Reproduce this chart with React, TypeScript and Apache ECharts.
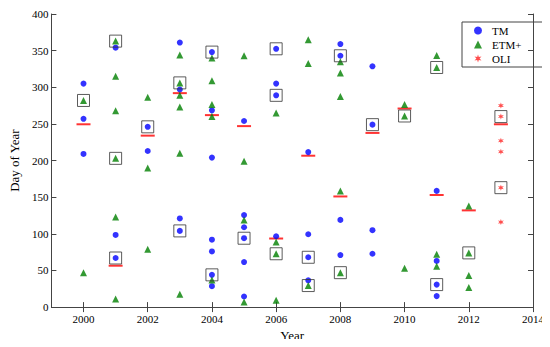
import React, { useEffect, useRef } from "react";
import * as echarts from "echarts";

// [year, day of year]
const tmPoints: number[][] = [
  [2000, 305], [2000, 257], [2000, 209],
  [2001, 354], [2001, 98.5], [2001, 67],
  [2002, 246], [2002, 213],
  [2003, 361], [2003, 297], [2003, 121], [2003, 104],
  [2004, 348], [2004, 268.5], [2004, 204], [2004, 92], [2004, 76], [2004, 44], [2004, 28.5],
  [2005, 254], [2005, 125.6], [2005, 109], [2005, 94], [2005, 61.5], [2005, 14.5],
  [2006, 352.5], [2006, 305], [2006, 289], [2006, 96.7],
  [2007, 211.5], [2007, 99.4], [2007, 68], [2007, 36.6],
  [2008, 359], [2008, 343], [2008, 119], [2008, 71],
  [2009, 328.6], [2009, 249], [2009, 105], [2009, 72.8],
  [2011, 158.6], [2011, 63], [2011, 30.7], [2011, 15],
];

const etmPoints: number[][] = [
  [2000, 282], [2000, 47],
  [2001, 363], [2001, 315], [2001, 268], [2001, 203], [2001, 123], [2001, 11],
  [2002, 286.5], [2002, 190], [2002, 79],
  [2003, 344], [2003, 306], [2003, 289], [2003, 273], [2003, 210], [2003, 17.6],
  [2004, 340], [2004, 309], [2004, 276.6], [2004, 260], [2004, 37],
  [2005, 343], [2005, 199], [2005, 119], [2005, 7],
  [2006, 265], [2006, 89], [2006, 72.8], [2006, 9.5],
  [2007, 365], [2007, 332.6], [2007, 29.4],
  [2008, 335], [2008, 319.5], [2008, 287.5], [2008, 158.6], [2008, 47],
  [2010, 276.6], [2010, 260.8], [2010, 53],
  [2011, 343.5], [2011, 327], [2011, 72], [2011, 55.6],
  [2012, 138], [2012, 74], [2012, 43], [2012, 26.7],
];

const oliPoints: number[][] = [
  [2013, 275], [2013, 260], [2013, 227], [2013, 212], [2013, 163], [2013, 116],
];

const boxedPoints: number[][] = [
  [2000, 282], [2001, 363], [2001, 203], [2001, 67], [2002, 246],
  [2003, 306], [2003, 104], [2004, 348], [2004, 44], [2005, 94],
  [2006, 352.5], [2006, 289], [2006, 72.8], [2007, 68], [2007, 29.4],
  [2008, 343], [2008, 47], [2009, 249], [2010, 260.8], [2011, 327],
  [2011, 30.7], [2012, 74], [2013, 260], [2013, 163],
];

const meanYears: number[] = [2000, 2001, 2002, 2003, 2004, 2005, 2006, 2007, 2008, 2009, 2010, 2011, 2012, 2013];
const meanDays: number[] = [249.5, 56.5, 234, 292, 262, 247, 93.6, 206.6, 151, 237.7, 271, 153, 132, 249.5];

const xTickValues: number[] = [2000, 2002, 2004, 2006, 2008, 2010, 2012, 2014];
const xRange = { min: 1999, max: 2014 };
const yTicks = { min: 0, max: 400, interval: 50 };

const asterisk =
  "path://M5 0 L6 3.27 L9.33 2.5 L7 5 L9.33 7.5 L6 6.73 L5 10 L4 6.73 L0.67 7.5 L3 5 L0.67 2.5 L4 3.27 Z";

const FONT = "Liberation Serif";
const FRAME = "#444";

export default function App() {
  const ref = useRef<HTMLDivElement>(null);
  useEffect(() => {
    if (!ref.current) return;
    const chart = echarts.init(ref.current, null, { renderer: "svg" });
    const lineCommon = { show: true, lineStyle: { color: FRAME, width: 1 } };
    const yTickCommon = { show: true, inside: true, length: 5, lineStyle: { color: FRAME } };
    const xTickCommon = { ...yTickCommon, customValues: xTickValues };
    chart.setOption({
      animation: false,
      backgroundColor: "#fff",
      textStyle: { fontFamily: FONT },
      grid: { left: 43, right: 17, top: 14, bottom: 38, containLabel: false },
      legend: {
        orient: "vertical",
        left: 462,
        top: 22,
        data: ["TM", "ETM+", "OLI"],
        borderColor: FRAME,
        borderWidth: 1,
        padding: [3, 23, 3, 12],
        itemWidth: 8,
        itemHeight: 8,
        itemGap: 3,
        textStyle: { fontFamily: FONT, fontSize: 11, lineHeight: 11, color: "#000", padding: [0, 0, 0, 5] },
      },
      xAxis: [
        {
          type: "value",
          ...xRange,
          position: "bottom",
          axisLine: lineCommon,
          axisTick: xTickCommon,
          splitLine: { show: false },
          name: "Year",
          nameLocation: "middle",
          nameGap: 19,
          nameTextStyle: { fontFamily: FONT, fontSize: 13, color: "#000" },
          axisLabel: {
            fontFamily: FONT,
            fontSize: 11,
            color: "#000",
            margin: 6,
            customValues: xTickValues,
            formatter: (v: number) => String(v),
          },
        },
        {
          type: "value",
          ...xRange,
          position: "top",
          axisLine: lineCommon,
          axisTick: xTickCommon,
          splitLine: { show: false },
          axisLabel: { show: false },
        },
      ],
      yAxis: [
        {
          type: "value",
          ...yTicks,
          position: "left",
          axisLine: lineCommon,
          axisTick: yTickCommon,
          splitLine: { show: false },
          name: "Day of Year",
          nameLocation: "middle",
          nameGap: 23,
          nameTextStyle: { fontFamily: FONT, fontSize: 13, color: "#000" },
          axisLabel: { fontFamily: FONT, fontSize: 11, color: "#000", margin: 3 },
        },
        {
          type: "value",
          ...yTicks,
          position: "right",
          axisLine: lineCommon,
          axisTick: yTickCommon,
          splitLine: { show: false },
          axisLabel: { show: false },
        },
      ],
      series: [
        {
          name: "mean",
          type: "scatter",
          symbol: "rect",
          symbolSize: [14, 2],
          itemStyle: { color: "#ff0000" },
          data: meanYears.map((y, i) => [y, meanDays[i]]),
          z: 1,
        },
        {
          name: "TM",
          type: "scatter",
          symbol: "circle",
          symbolSize: 6,
          itemStyle: { color: "#0000ff" },
          data: tmPoints,
          z: 2,
        },
        {
          name: "ETM+",
          type: "scatter",
          symbol: "triangle",
          symbolSize: 7,
          itemStyle: { color: "#008000" },
          data: etmPoints,
          z: 3,
        },
        {
          name: "OLI",
          type: "scatter",
          symbol: asterisk,
          symbolSize: 6,
          itemStyle: { color: "#ff2020" },
          data: oliPoints,
          z: 3,
        },
        {
          name: "selected",
          type: "scatter",
          symbol: "rect",
          symbolSize: 12,
          itemStyle: { color: "rgba(0,0,0,0)", borderColor: "#333", borderWidth: 1 },
          data: boxedPoints,
          z: 4,
        },
      ],
    });
    return () => chart.dispose();
  }, []);
  return <div ref={ref} style={{ width: 550, height: 347, margin: -8 }} />;
}
